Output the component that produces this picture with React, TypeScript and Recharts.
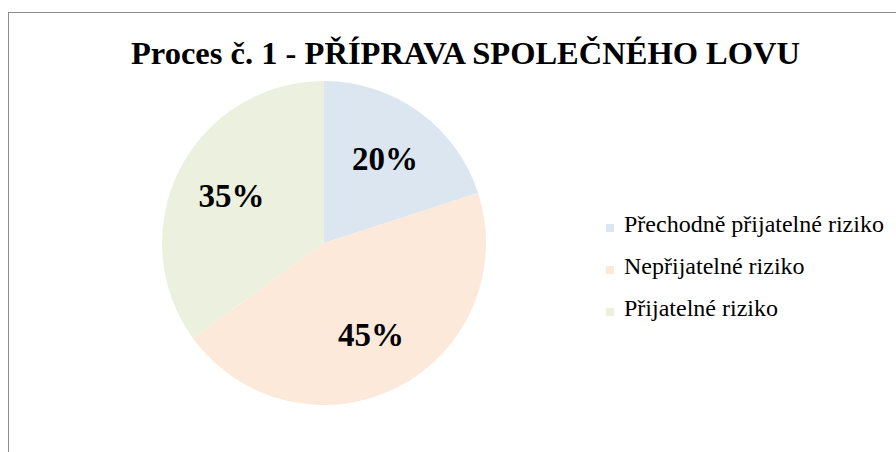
import { Cell, Pie, PieChart } from "recharts";

const categories = ["Přechodně přijatelné riziko", "Nepřijatelné riziko", "Přijatelné riziko"];
const shares = [20, 45, 35];
const colors = ["#DCE6F1", "#FDE9D9", "#EBF1DE"];

const data = categories.map((name, i) => ({ name, value: shares[i] }));

const FONT = "'Liberation Serif', 'Times New Roman', serif";
const RAD = Math.PI / 180;

function renderLabel(props: any) {
  const { cx, cy, midAngle, outerRadius, value } = props;
  const r = outerRadius * 0.64;
  const x = cx + r * Math.cos(-midAngle * RAD);
  const y = cy + r * Math.sin(-midAngle * RAD);
  return (
    <text x={x} y={y} textAnchor="middle" dominantBaseline="central" fontFamily={FONT} fontWeight="bold" fontSize={33} fill="#000">
      {`${value}%`}
    </text>
  );
}

export default function App() {
  return (
    <div style={{ position: "fixed", left: 0, top: 0, width: 896, height: 452, overflow: "hidden", background: "#fff" }}>
      <div style={{ position: "absolute", left: 8, top: 12, width: 920, height: 470, border: "1px solid #8c8c8c" }} />
      <div
        style={{
          position: "absolute",
          left: 0,
          top: 33,
          width: 931,
          textAlign: "center",
          fontFamily: FONT,
          fontWeight: "bold",
          fontSize: 32.5,
          lineHeight: "40px",
          whiteSpace: "nowrap",
        }}
      >
        Proces č. 1 - PŘÍPRAVA SPOLEČNÉHO LOVU
      </div>
      <div style={{ position: "absolute", left: 0, top: 0 }}>
        <PieChart width={896} height={452} margin={{ top: 0, right: 0, bottom: 0, left: 0 }}>
          <Pie
            data={data}
            dataKey="value"
            nameKey="name"
            cx={324}
            cy={243}
            outerRadius={162}
            startAngle={90}
            endAngle={-270}
            stroke="none"
            label={renderLabel}
            labelLine={false}
            isAnimationActive={false}
          >
            {data.map((d, i) => (
              <Cell key={d.name} fill={colors[i]} />
            ))}
          </Pie>
        </PieChart>
      </div>
      <div style={{ position: "absolute", left: 606, top: 203, fontFamily: FONT, fontSize: 24, lineHeight: "42px" }}>
        {categories.map((c, i) => (
          <div key={c} style={{ position: "relative", height: 42, whiteSpace: "nowrap" }}>
            <span style={{ position: "absolute", left: 0, top: 21, width: 8, height: 8, background: colors[i] }} />
            <span style={{ position: "absolute", left: 18, top: 0 }}>{c}</span>
          </div>
        ))}
      </div>
    </div>
  );
}
